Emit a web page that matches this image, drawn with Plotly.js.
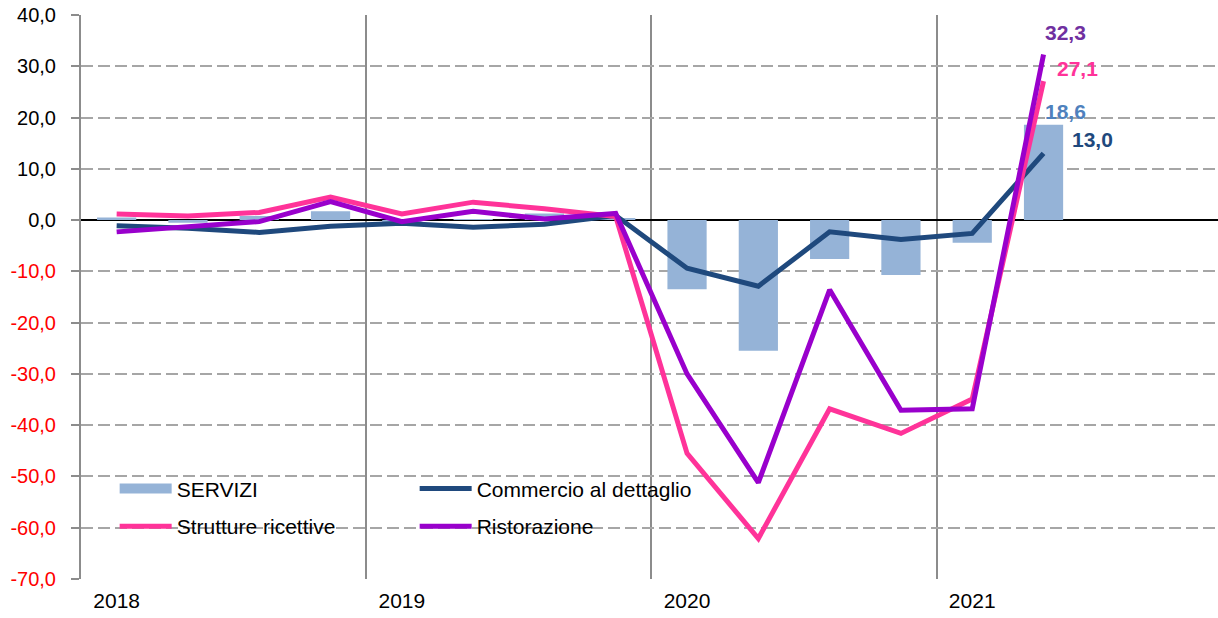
<!DOCTYPE html>
<html>
<head>
<meta charset="utf-8">
<script src="https://cdn.plot.ly/plotly-3.0.1.min.js"></script>
<style>html,body{margin:0;padding:0;background:#fff;}#chart{width:1218px;height:618px;}</style>
</head>
<body>
<div id="chart"></div>
<script>
// Quarters 2018Q1 .. 2021Q2
const quarters = [0,1,2,3,4,5,6,7,8,9,10,11,12,13];
const yearTickPos = [0,4,8,12];
const yearLabels = ['2018','2019','2020','2021'];
const servizi      = [0.5, -0.5, 0.8, 1.7, -0.4, 0.2, 1.3, 0.4, -13.5, -25.5, -7.6, -10.7, -4.4, 18.6];
const commercio    = [-1.1, -1.6, -2.4, -1.2, -0.6, -1.4, -0.8, 0.9, -9.4, -12.9, -2.3, -3.8, -2.6, 13.0];
const strutture    = [1.2, 0.8, 1.5, 4.5, 1.2, 3.5, 2.2, 0.7, -45.5, -62.1, -36.8, -41.6, -34.9, 27.1];
const ristorazione = [-2.3, -1.3, -0.3, 3.6, -0.3, 1.7, 0.2, 1.3, -30.0, -51.2, -13.6, -37.1, -36.8, 32.3];
const yTicks = [-70,-60,-50,-40,-30,-20,-10,0,10,20,30,40];
const seriesNames = ['SERVIZI','Commercio al dettaglio','Strutture ricettive','Ristorazione'];

const C_BAR = '#95b3d7', C_NAVY = '#1f497d', C_PINK = '#ff3399', C_PURP = '#9900cc';
const FONT = 'Liberation Sans, Arial, sans-serif';

function fmt(v){ return v.toFixed(1).replace('.', ','); }
const yTickText = yTicks.map(v => v < 0 ? '<span style="color:#ff0000">' + fmt(v) + '</span>' : fmt(v));

const last = quarters.length - 1;

const data = [
  {type:'bar', x:quarters, y:servizi, name:seriesNames[0], marker:{color:C_BAR}, width:0.55, showlegend:false, hoverinfo:'skip'},
  {type:'scatter', mode:'lines', x:[null], y:[null], name:seriesNames[0], line:{color:C_BAR, width:10}, legend:'legend'},
  {type:'scatter', mode:'lines', x:quarters, y:commercio, name:seriesNames[1], line:{color:C_NAVY, width:5}, legend:'legend'},
  {type:'scatter', mode:'lines', x:quarters, y:strutture, name:seriesNames[2], line:{color:C_PINK, width:5}, legend:'legend2'},
  {type:'scatter', mode:'lines', x:quarters, y:ristorazione, name:seriesNames[3], line:{color:C_PURP, width:5}, legend:'legend2'}
];

function lab(val, color, xs, ys){
  return {x:quarters[last], y:val, xref:'x', yref:'y', text:fmt(val), showarrow:false,
    font:{family:FONT, size:21, color:color, weight:'bold'}, xshift:xs, yshift:ys};
}

const legendCommon = {orientation:'h', xanchor:'left', yanchor:'middle', bgcolor:'rgba(0,0,0,0)',
  font:{family:FONT, size:21, color:'#000'}, itemwidth:52, entrywidth:233, traceorder:'normal'};

const layout = {
  width:1218, height:618,
  margin:{l:81, r:0, t:15, b:39},
  paper_bgcolor:'#fff', plot_bgcolor:'#fff',
  font:{family:FONT, size:20, color:'#000'},
  showlegend:true,
  legend:Object.assign({x:0.0296, y:0.16}, legendCommon),
  legend2:Object.assign({x:0.0296, y:0.093}, legendCommon),
  xaxis:{range:[-0.5, 15.447], tickmode:'array', tickvals:yearTickPos, ticktext:yearLabels,
    showgrid:false, zeroline:false, showline:false, ticks:'',
    tickfont:{family:FONT, size:21, color:'#000'}, ticklabelstandoff:7,
    minor:{tick0:3.5, dtick:4, showgrid:true, gridcolor:'#8c8c8c', gridwidth:2, ticks:''}},
  yaxis:{range:[-70,40], tickmode:'array', tickvals:yTicks, ticktext:yTickText,
    showgrid:true, gridcolor:'#a6a6a6', gridwidth:2, griddash:'12px,5px',
    zeroline:true, zerolinecolor:'#000', zerolinewidth:2,
    showline:true, linecolor:'#8c8c8c', linewidth:2,
    ticks:'outside', ticklen:8, tickwidth:2, tickcolor:'#8c8c8c',
    tickfont:{family:FONT, size:20, color:'#000'}, ticklabelstandoff:11},
  bargap:0.45,
  annotations:[
    lab(ristorazione[last], '#7030a0', 22, 22),
    lab(strutture[last], C_PINK, 34, 13),
    lab(servizi[last], '#4f81bd', 22, 13),
    lab(commercio[last], C_NAVY, 49, 14)
  ]
};

Plotly.newPlot('chart', data, layout, {staticPlot:true, displayModeBar:false});
</script>
</body>
</html>
